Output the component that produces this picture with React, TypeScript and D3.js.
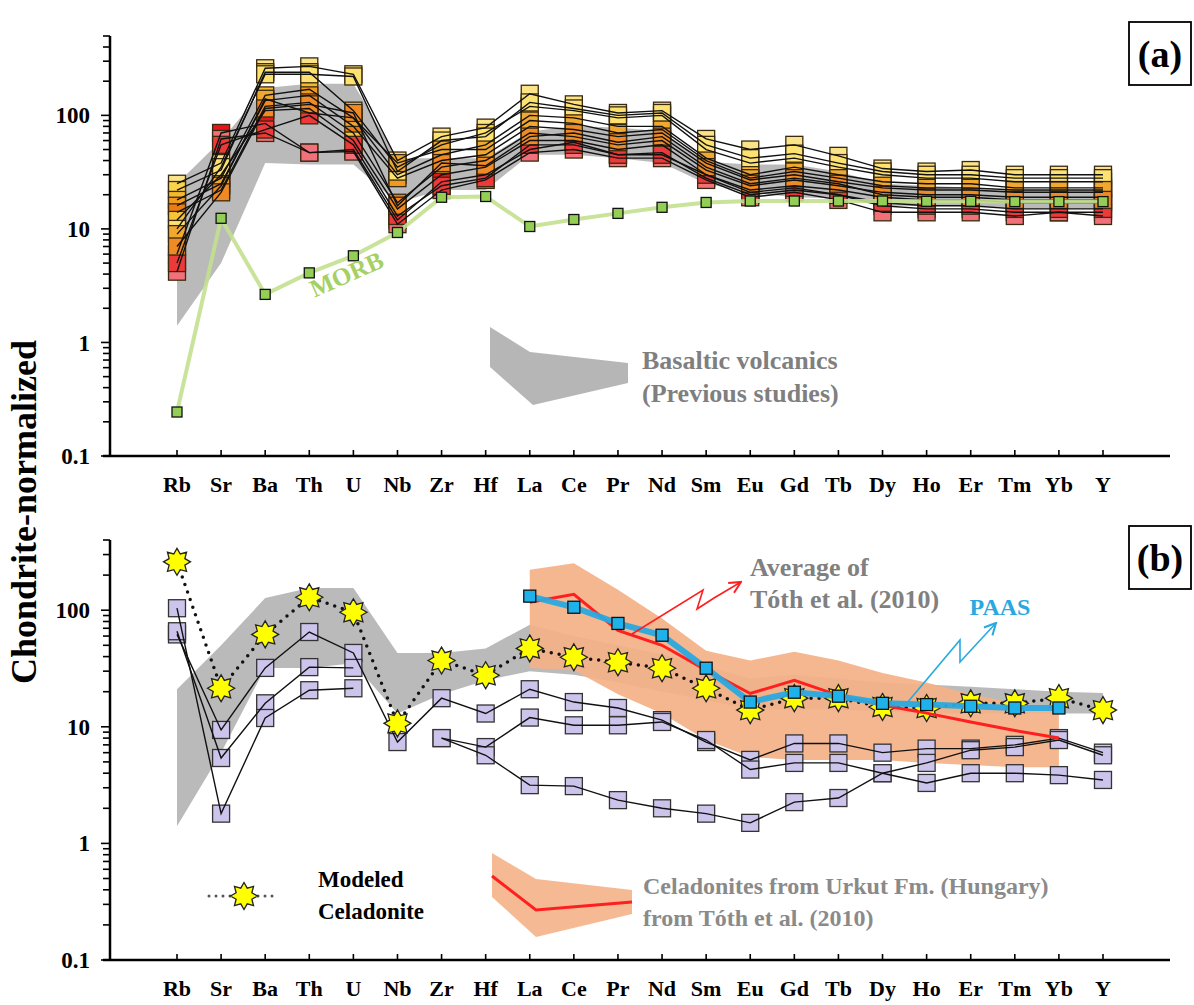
import React, { useRef, useEffect } from "react";
import * as d3 from "d3";

const elements = ["Rb", "Sr", "Ba", "Th", "U", "Nb", "Zr", "Hf", "La", "Ce", "Pr", "Nd", "Sm", "Eu", "Gd", "Tb", "Dy", "Ho", "Er", "Tm", "Yb", "Y"];
const majorTicks = [0.1, 1, 10, 100];

// (a) basaltic volcanics field from previous studies
const basaltTopA = [25, 60, 174, 190, 190, 42, 42, 42, 72, 80, 78, 72, 39, 37, 37, 32, 25, 24, 23, 22, 22, 22];
const basaltLowA = [1.4, 5, 38, 37, 37, 17, 22, 22, 45, 45, 42, 38, 25, 21, 19, 18.5, 16, 16, 16, 15, 15, 15];
const morb = [0.244, 12.4, 2.65, 4.1, 5.8, 9.3, 19, 19.3, 10.5, 12.1, 13.7, 15.5, 17.1, 17.6, 17.6, 17.6, 17.6, 17.5, 17.5, 17.4, 17.4, 17.4];

// (a) studied samples
const s01 = [25, 38, 260, 270, 230, 40, 65, 78, 155, 125, 105, 110, 62, 50, 55, 44, 34, 32, 33, 30, 30, 30];
const s02 = [22, 33, 240, 240, 110, 35, 55, 70, 120, 110, 95, 100, 50, 38, 42, 35, 30, 28, 28, 26, 26, 26];
const s03 = [18, 28, 150, 170, 95, 30, 45, 55, 100, 95, 80, 80, 42, 30, 35, 30, 26, 25, 25, 23, 23, 23];
const s04 = [16, 25, 135, 150, 80, 28, 40, 45, 80, 75, 65, 70, 38, 27, 30, 26, 23, 22, 22, 21, 21, 21];
const s05 = [14, 22, 120, 130, 70, 17, 35, 40, 70, 65, 55, 60, 33, 24, 27, 24, 21, 20, 20, 19, 19, 19];
const s06 = [12, 30, 110, 115, 60, 15, 30, 35, 60, 60, 50, 55, 30, 22, 24, 22, 19, 18, 18, 17, 17, 17];
const s07 = [10, 35, 230, 230, 220, 32, 60, 65, 130, 115, 100, 105, 55, 42, 46, 38, 32, 30, 30, 28, 28, 28];
const s08 = [9, 24, 140, 105, 95, 38, 50, 50, 90, 85, 70, 75, 40, 28, 32, 28, 24, 23, 23, 22, 22, 22];
const s09 = [6, 70, 85, 47, 50, 12, 26, 30, 50, 58, 45, 47, 28, 20, 22, 20, 16, 15, 15, 14, 14, 14];
const s10 = [4.2, 62, 70, 47, 48, 11, 22, 27, 47, 50, 42, 42, 27, 19, 21, 18, 14, 14, 14, 13, 14, 13];
const s11 = [5, 55, 75, 100, 55, 13, 24, 28, 55, 55, 45, 45, 30, 21, 23, 20, 17, 16, 16, 15, 15, 15];
const s12 = [7, 21, 115, 125, 105, 16, 38, 36, 65, 70, 58, 65, 35, 25, 28, 25, 20, 19, 19, 18, 18, 18];
const sampleColors = ["#fbe38a", "#f9d34a", "#f5b82e", "#f29a1f", "#ea7d12", "#f7c33a", "#fde272", "#f0a830", "#e8141c", "#f2707a", "#ec3a3a", "#f08a24"];

// (b)
const basaltTopB = [21, 50, 127, 155, 155, 43, 43, 47, 75, 60, 50, 42, 33, 26, 28, 26, 24, 23, 22, 21, 20, 19.5];
const basaltLowB = [1.4, 6, 32, 32, 35, 13, 19, 25, 30, 28, 24, 20, 17, 14, 14, 14, 13.5, 13, 13, 13, 13, 13];
const tothTop = [null, null, null, null, null, null, null, null, 222, 253, 150, 85, 45, 37, 44, 37, 29, 24, 19, 16, 13, null];
const tothLow = [null, null, null, null, null, null, null, null, 32, 30.6, 19, 13, 7.7, 5.5, 5.2, 5.2, 5.2, 4.9, 4.7, 4.5, 4.5, null];
const tothAvg = [null, null, null, null, null, null, null, null, 117, 137, 67, 50, 30.6, 19.3, 25, 18.6, 15.3, 13.1, 11, 9.3, 8.0, null];
const paas = [null, null, null, null, null, null, null, null, 132, 106, 77, 61, 31.8, 16.3, 19.8, 18.3, 15.9, 15.5, 15.0, 14.5, 14.5, null];
const modeled = [260, 21.4, 62, 129, 96, 10.7, 37, 27.7, 47, 39.5, 35.8, 31.8, 21.4, 13.9, 17.6, 17.6, 14.8, 14.5, 15.9, 15.9, 17.6, 13.9];
const celA = [62, 9.4, 32, 65, 43, 7.4, 17.6, 13, 21, 16.3, 14.5, 11.4, 7.4, 5.2, 7.2, 7.2, 6.0, 6.5, 6.5, 7.0, 8.0, 6.0];
const celB = [66, 5.4, 15.9, 32.5, 32, null, 8.0, 6.7, 12, 10.3, 10.3, 11, 7.7, 4.3, 4.9, 4.9, 4.0, 3.3, 4.0, 4.0, 3.85, 3.5];
const celC = [104, 1.8, 11.9, 20.6, 21.4, null, 8.0, 5.7, 3.16, 3.1, 2.35, 2.0, 1.8, 1.5, 2.26, 2.45, 4.0, 4.9, 6.3, 6.7, 7.7, 5.7];

const serif = "'Liberation Serif', 'Times New Roman', serif";

export default function App() {
    const svgRef = useRef(null);

    useEffect(() => {
        draw();
    }, []);

    const draw = () => {
        const svg = d3.select(svgRef.current);
        svg.selectAll("*").remove();

        const x = d3.scalePoint().domain(elements).range([177, 1103]);
        const ya = d3.scaleLog().domain([0.1, 500]).range([456, 36]);
        const yb = d3.scaleLog().domain([0.1, 400]).range([960, 540]);

        const defs = svg.append("defs");
        const marker = (id, color) => defs.append("marker")
            .attr("id", id).attr("viewBox", "0 0 10 10").attr("refX", 9).attr("refY", 5)
            .attr("markerWidth", 9).attr("markerHeight", 9).attr("orient", "auto")
            .append("path").attr("d", "M1,1 L9,5 L1,9").attr("fill", "none")
            .attr("stroke", color).attr("stroke-width", 1.4);
        marker("arrRed", "#ff1f1f");
        marker("arrBlue", "#29a9e0");

        const axes = (g, y) => {
            const [y0, y1] = y.range();
            g.append("line").attr("x1", 110).attr("x2", 110).attr("y1", y1).attr("y2", y0)
                .attr("stroke", "#000").attr("stroke-width", 2.5);
            g.append("line").attr("x1", 103).attr("x2", 1170).attr("y1", y0).attr("y2", y0)
                .attr("stroke", "#000").attr("stroke-width", 2.5);
            y.ticks().forEach(t => {
                const major = Math.abs(Math.log10(t) - Math.round(Math.log10(t))) < 1e-6;
                g.append("line").attr("x1", 110).attr("x2", major ? 101 : 103)
                    .attr("y1", y(t)).attr("y2", y(t)).attr("stroke", "#000").attr("stroke-width", 1.6);
            });
            majorTicks.forEach(t => {
                g.append("text").attr("x", 90).attr("y", y(t)).attr("dy", "0.35em")
                    .attr("text-anchor", "end").attr("font-family", serif).attr("font-weight", "bold")
                    .attr("font-size", 23).text(String(t));
            });
            elements.forEach(e => {
                g.append("line").attr("x1", x(e)).attr("x2", x(e)).attr("y1", y0).attr("y2", y0 - 6)
                    .attr("stroke", "#000").attr("stroke-width", 1.6);
                g.append("text").attr("x", x(e)).attr("y", y0 + 36).attr("text-anchor", "middle")
                    .attr("font-family", serif).attr("font-weight", "bold").attr("font-size", 22).text(e);
            });
        };

        const band = (y, top, low) => d3.area()
            .defined((d, i) => top[i] != null && low[i] != null)
            .x((d, i) => x(elements[i]))
            .y0((d, i) => y(low[i]))
            .y1((d, i) => y(top[i]))(elements);

        const line = (y, vals) => d3.line()
            .defined((d, i) => vals[i] != null)
            .x((d, i) => x(elements[i]))
            .y((d, i) => y(vals[i]))(elements);

        const squares = (g, y, vals, size, fill, stroke) => {
            g.selectAll(null).data(elements.filter((e, i) => vals[i] != null))
                .join("rect")
                .attr("x", e => x(e) - size / 2)
                .attr("y", e => y(vals[elements.indexOf(e)]) - size / 2)
                .attr("width", size).attr("height", size)
                .attr("fill", fill).attr("stroke", stroke).attr("stroke-width", 1.3);
        };

        // ---------- panel (a)
        const ga = svg.append("g");
        ga.append("path").attr("d", band(ya, basaltTopA, basaltLowA)).attr("fill", "#a9a9a9").attr("opacity", 0.8);

        const samples = [s01, s02, s03, s04, s05, s06, s07, s08, s09, s10, s11, s12];
        samples.forEach((s, k) => squares(ga, ya, s, 17, sampleColors[k], "#3a2a10"));
        samples.forEach(s => ga.append("path").attr("d", line(ya, s)).attr("fill", "none")
            .attr("stroke", "#111").attr("stroke-width", 1.4));

        ga.append("path").attr("d", line(ya, morb)).attr("fill", "none")
            .attr("stroke", "#c3e08f").attr("stroke-width", 4).attr("opacity", 0.9);
        squares(ga, ya, morb, 10, "#94cf55", "#111");

        ga.append("text").attr("transform", "translate(350,282) rotate(-24)")
            .attr("text-anchor", "middle").attr("font-family", serif).attr("font-weight", "bold")
            .attr("font-size", 25).attr("fill", "#a5d064").text("MORB");

        // legend (a)
        ga.append("path").attr("d", "M490,327 L530,352 L628,363 L628,383 L533,405 L490,367 Z")
            .attr("fill", "#a9a9a9").attr("opacity", 0.85);
        ga.append("text").attr("x", 642).attr("y", 369).attr("font-family", serif).attr("font-weight", "bold")
            .attr("font-size", 26).attr("fill", "#7f7f7f").text("Basaltic volcanics");
        ga.append("text").attr("x", 642).attr("y", 402).attr("font-family", serif).attr("font-weight", "bold")
            .attr("font-size", 26).attr("fill", "#7f7f7f").text("(Previous studies)");

        axes(ga, ya);

        ga.append("rect").attr("x", 1129).attr("y", 22).attr("width", 62).attr("height", 63)
            .attr("fill", "#fff").attr("stroke", "#000").attr("stroke-width", 1.8);
        ga.append("text").attr("x", 1160).attr("y", 67).attr("text-anchor", "middle").attr("font-family", serif)
            .attr("font-weight", "bold").attr("font-size", 38).text("(a)");

        // ---------- panel (b)
        const gb = svg.append("g");
        gb.append("path").attr("d", band(yb, basaltTopB, basaltLowB)).attr("fill", "#a9a9a9").attr("opacity", 0.8);
        gb.append("path").attr("d", band(yb, tothTop, tothLow)).attr("fill", "#f4b288").attr("opacity", 0.93);

        [celA, celB, celC].forEach(s => squares(gb, yb, s, 17, "#cdc4ec", "#333"));
        [celA, celB, celC].forEach(s => gb.append("path").attr("d", line(yb, s)).attr("fill", "none")
            .attr("stroke", "#111").attr("stroke-width", 1.4));

        gb.append("path").attr("d", line(yb, modeled)).attr("fill", "none")
            .attr("stroke", "#111").attr("stroke-width", 3.5).attr("stroke-linecap", "round")
            .attr("stroke-dasharray", "0 8");
        const star = d3.lineRadial().curve(d3.curveLinearClosed)(
            d3.range(16).map(i => [i * Math.PI / 8, i % 2 ? 8.5 : 13.5]));
        gb.selectAll(null).data(elements).join("path")
            .attr("d", star)
            .attr("transform", (e, i) => `translate(${x(e)},${yb(modeled[i])})`)
            .attr("fill", "#ffff00").attr("stroke", "#222").attr("stroke-width", 1.3);

        gb.append("path").attr("d", line(yb, tothAvg)).attr("fill", "none")
            .attr("stroke", "#ff1f1f").attr("stroke-width", 3);
        gb.append("path").attr("d", line(yb, paas)).attr("fill", "none")
            .attr("stroke", "#29a9e0").attr("stroke-width", 6).attr("opacity", 0.95);
        squares(gb, yb, paas, 12, "#1eb1ea", "#111");

        // annotations
        gb.append("path").attr("d", "M632,634 L703,590 L697,609 L714,598 L741,582")
            .attr("fill", "none").attr("stroke", "#ff1f1f").attr("stroke-width", 1.6).attr("marker-end", "url(#arrRed)");
        gb.append("text").attr("x", 750).attr("y", 576).attr("font-family", serif).attr("font-weight", "bold")
            .attr("font-size", 26).attr("fill", "#808080").text("Average of");
        gb.append("text").attr("x", 750).attr("y", 608).attr("font-family", serif).attr("font-weight", "bold")
            .attr("font-size", 26).attr("fill", "#808080").text("Tóth et al. (2010)");
        gb.append("path").attr("d", "M907,703 L960,640 L960,662 L996,623")
            .attr("fill", "none").attr("stroke", "#29a9e0").attr("stroke-width", 1.6).attr("marker-end", "url(#arrBlue)");
        gb.append("text").attr("x", 1000).attr("y", 615).attr("text-anchor", "middle").attr("font-family", serif)
            .attr("font-weight", "bold").attr("font-size", 24).attr("fill", "#29a9e0").text("PAAS");

        // legend (b)
        gb.append("line").attr("x1", 209).attr("x2", 279).attr("y1", 896).attr("y2", 896)
            .attr("stroke", "#555").attr("stroke-width", 3).attr("stroke-linecap", "round").attr("stroke-dasharray", "0 7");
        gb.append("path").attr("d", star).attr("transform", "translate(244,896)")
            .attr("fill", "#ffff00").attr("stroke", "#222").attr("stroke-width", 1.3);
        gb.append("text").attr("x", 318).attr("y", 887).attr("font-family", serif).attr("font-weight", "bold")
            .attr("font-size", 23).text("Modeled");
        gb.append("text").attr("x", 318).attr("y", 919).attr("font-family", serif).attr("font-weight", "bold")
            .attr("font-size", 23).text("Celadonite");
        gb.append("path").attr("d", "M492,853 L536,879 L632,890 L632,914 L536,937 L492,897 Z")
            .attr("fill", "#f4b288").attr("opacity", 0.9);
        gb.append("path").attr("d", "M492,876 L536,910 L632,902").attr("fill", "none")
            .attr("stroke", "#ff1f1f").attr("stroke-width", 3);
        gb.append("text").attr("x", 643).attr("y", 894).attr("font-family", serif).attr("font-weight", "bold")
            .attr("font-size", 24).attr("fill", "#8a8a8a").text("Celadonites from Urkut Fm. (Hungary)");
        gb.append("text").attr("x", 643).attr("y", 926).attr("font-family", serif).attr("font-weight", "bold")
            .attr("font-size", 24).attr("fill", "#8a8a8a").text("from Tóth et al. (2010)");

        axes(gb, yb);

        gb.append("rect").attr("x", 1129).attr("y", 526).attr("width", 62).attr("height", 63)
            .attr("fill", "#fff").attr("stroke", "#000").attr("stroke-width", 1.8);
        gb.append("text").attr("x", 1160).attr("y", 571).attr("text-anchor", "middle").attr("font-family", serif)
            .attr("font-weight", "bold").attr("font-size", 38).text("(b)");

        // shared y title
        svg.append("text").attr("transform", "translate(36,512) rotate(-90)").attr("text-anchor", "middle")
            .attr("font-family", serif).attr("font-weight", "bold").attr("font-size", 36).text("Chondrite-normalized");
    };

    return (
        <svg ref={svgRef} width={1194} height={1005}
            style={{ position: "absolute", left: 0, top: 0, background: "#fff" }}></svg>
    );
}
